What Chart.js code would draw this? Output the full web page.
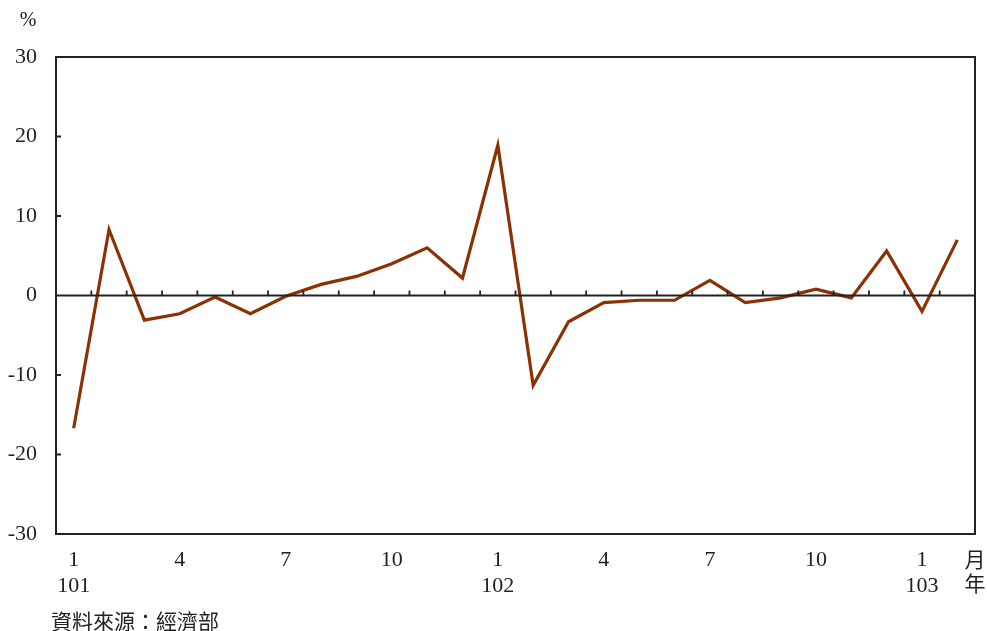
<!DOCTYPE html>
<html>
<head>
<meta charset="utf-8">
<script src="https://cdn.jsdelivr.net/npm/chart.js@4/dist/chart.umd.min.js"></script>
<style>
  html,body{margin:0;padding:0;background:#fff;}
  #wrap{width:987px;height:631px;position:relative;}
</style>
</head>
<body>
<div id="wrap"><canvas id="chart"></canvas></div>
<script>
// data (101/1 .. 103/2)
var months=[1,2,3,4,5,6,7,8,9,10,11,12,1,2,3,4,5,6,7,8,9,10,11,12,1,2];
var years=["101","","","","","","","","","","","","102","","","","","","","","","","","","103",""];
var growth=[-16.7,8.3,-3.1,-2.3,-0.2,-2.3,-0.1,1.4,2.4,4.0,6.0,2.2,18.9,-11.3,-3.3,-0.9,-0.6,-0.6,1.9,-0.9,-0.3,0.8,-0.3,5.6,-2.0,7.0];
var shownMonths=[1,4,7,10];
var yTicks=[-30,-20,-10,0,10,20,30];

var serif="'Liberation Serif','DejaVu Serif',serif";
var cjk="'Noto Sans CJK TC','Noto Sans CJK SC',sans-serif";
var ink="#222";

var labels=months.map(function(m,i){
  var top=shownMonths.indexOf(m)>=0 ? String(m) : "";
  return years[i] ? [top,years[i]] : top;
});

// frame, zero line, small ticks and loose texts
var decor={
  id:"decor",
  afterDatasetsDraw:function(chart){
    var ctx=chart.ctx, a=chart.chartArea;
    var xs=chart.scales.x, ys=chart.scales.y;
    ctx.save();
    ctx.strokeStyle=ink;
    ctx.lineWidth=1.8;
    var y0=ys.getPixelForValue(0);
    ctx.beginPath();
    ctx.moveTo(a.left,y0);ctx.lineTo(a.right,y0);
    // ticks between months, pointing up
    for(var i=1;i<growth.length;i++){
      var x=(xs.getPixelForValue(i-1)+xs.getPixelForValue(i))/2;
      ctx.moveTo(x,y0);ctx.lineTo(x,y0-5);
    }
    // y ticks pointing in
    yTicks.forEach(function(v){
      var y=ys.getPixelForValue(v);
      ctx.moveTo(a.left,y);ctx.lineTo(a.left+5,y);
    });
    ctx.stroke();
    ctx.lineWidth=2;
    ctx.strokeRect(a.left,a.top,a.right-a.left,a.bottom-a.top);

    ctx.fillStyle=ink;
    ctx.font="20px "+serif;
    ctx.textAlign="center";ctx.textBaseline="middle";
    ctx.fillText("%",28,21);
    ctx.font="21px "+cjk;
    ctx.fillText("月",975,559);
    ctx.fillText("年",975,583);
    ctx.textAlign="left";
    ctx.fillText("資料來源：經濟部",51,621);
    ctx.restore();
  }
};

new Chart(document.getElementById("chart"),{
  type:"line",
  data:{
    labels:labels,
    datasets:[{
      data:growth,
      borderColor:"#8b3104",
      borderWidth:3.2,
      pointRadius:0,
      tension:0,
      fill:false
    }]
  },
  options:{
    responsive:true,
    maintainAspectRatio:false,
    animation:false,
    devicePixelRatio:1,
    layout:{padding:{top:57,right:12,left:0,bottom:0}},
    plugins:{legend:{display:false},tooltip:{enabled:false}},
    scales:{
      x:{
        offset:true,
        grid:{display:false,drawTicks:false},
        border:{display:false},
        ticks:{
          autoSkip:false,maxRotation:0,padding:14,color:ink,
          font:{family:serif,size:22,lineHeight:1.15}
        },
        afterFit:function(s){s.height=631-534;}
      },
      y:{
        min:-30,max:30,
        grid:{display:false,drawTicks:false},
        border:{display:false},
        afterBuildTicks:function(s){s.ticks=yTicks.map(function(v){return {value:v};});},
        ticks:{
          padding:19,color:ink,
          font:{family:serif,size:22}
        },
        afterFit:function(s){s.width=56;}
      }
    }
  },
  plugins:[decor]
});
</script>
</body>
</html>
